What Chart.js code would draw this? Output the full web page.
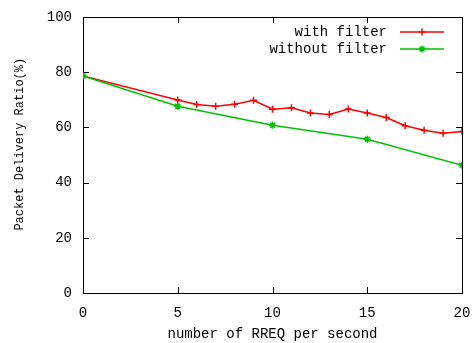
<!DOCTYPE html>
<html>
<head>
    <title>Packet Delivery Ratio</title>
    <script src="https://cdn.jsdelivr.net/npm/chart.js"></script>
    <style>
        body { margin: 0; background: #fff; }
    </style>
</head>
<body>
    <canvas id="chart" width="476" height="343"></canvas>

    <script>
        // values
        var xWithFilter = [0, 5, 6, 7, 8, 9, 10, 11, 12, 13, 14, 15, 16, 17, 18, 19, 20];
        var withFilter = [78.6, 69.9, 68.3, 67.7, 68.4, 69.8, 66.6, 67.1, 65.2, 64.7, 66.7, 65.2, 63.6, 60.6, 59.0, 57.9, 58.5];
        var xWithoutFilter = [0, 5, 10, 15, 20];
        var withoutFilter = [78.6, 67.7, 60.8, 55.7, 46.3];
        var xTicks = [0, 5, 10, 15, 20];
        var yTicks = [0, 20, 40, 60, 80, 100];
        var seriesNames = ['with filter', 'without filter'];

        var RED = '#ff0000';
        var GREEN = '#00c000';
        var FONT = 'Liberation Mono';

        function toPoints(xs, ys) {
            return xs.map(function(x, i) { return { x: x, y: ys[i] }; });
        }

        // gnuplot style box with inward ticks on all four sides
        var frame = {
            id: 'frame',
            beforeDatasetsDraw: function(chart) {
                var ctx = chart.ctx, a = chart.chartArea;
                var x = chart.scales.x, y = chart.scales.y;
                ctx.save();
                ctx.strokeStyle = '#000';
                ctx.lineWidth = 1;
                ctx.strokeRect(Math.round(a.left) + 0.5, Math.round(a.top) + 0.5,
                    Math.round(a.right - a.left), Math.round(a.bottom - a.top));
                ctx.beginPath();
                xTicks.forEach(function(v) {
                    var px = Math.round(x.getPixelForValue(v)) + 0.5;
                    ctx.moveTo(px, a.bottom); ctx.lineTo(px, a.bottom - 6);
                    ctx.moveTo(px, a.top); ctx.lineTo(px, a.top + 6);
                });
                yTicks.forEach(function(v) {
                    var py = Math.round(y.getPixelForValue(v)) + 0.5;
                    ctx.moveTo(a.left, py); ctx.lineTo(a.left + 6, py);
                    ctx.moveTo(a.right, py); ctx.lineTo(a.right - 6, py);
                });
                ctx.stroke();
                ctx.restore();
            },
            afterDraw: function(chart) {
                var ctx = chart.ctx;
                var rows = [
                    { text: seriesNames[0], color: RED, style: 'cross', y: 32 },
                    { text: seriesNames[1], color: GREEN, style: 'star', y: 49 }
                ];
                ctx.save();
                ctx.font = '14px "' + FONT + '"';
                ctx.textAlign = 'right';
                ctx.textBaseline = 'middle';
                rows.forEach(function(r) {
                    ctx.fillStyle = '#000';
                    ctx.fillText(r.text, 387, r.y);
                    ctx.strokeStyle = r.color;
                    ctx.fillStyle = r.color;
                    ctx.lineWidth = 1.5;
                    ctx.beginPath();
                    ctx.moveTo(400, r.y); ctx.lineTo(444, r.y);
                    ctx.stroke();
                    Chart.helpers.drawPoint(ctx, { pointStyle: r.style, radius: 3.5, rotation: 0, borderWidth: 1.5 }, 422, r.y);
                });
                ctx.restore();
            }
        };

        var ctx = document.getElementById('chart').getContext('2d');
        new Chart(ctx, {
            type: 'line',
            data: {
                datasets: [{
                    label: seriesNames[0],
                    data: toPoints(xWithFilter, withFilter),
                    borderColor: RED,
                    backgroundColor: RED,
                    borderWidth: 1.5,
                    pointStyle: 'cross',
                    pointRadius: 3.5,
                    pointBorderWidth: 1.5,
                    tension: 0,
                    order: 1
                }, {
                    label: seriesNames[1],
                    data: toPoints(xWithoutFilter, withoutFilter),
                    borderColor: GREEN,
                    backgroundColor: GREEN,
                    borderWidth: 1.5,
                    pointStyle: 'star',
                    pointRadius: 3.5,
                    pointBorderWidth: 1.5,
                    tension: 0,
                    order: 0
                }]
            },
            options: {
                responsive: false,
                animation: false,
                layout: { padding: { left: 0, top: 17, right: 14, bottom: 0 } },
                plugins: { legend: { display: false }, tooltip: { enabled: false } },
                scales: {
                    x: {
                        type: 'linear',
                        min: 0,
                        max: 20,
                        afterFit: function(s) { s.height = 50; },
                        afterBuildTicks: function(s) { s.ticks = xTicks.map(function(v) { return { value: v }; }); },
                        // tick marks are hidden; tickLength only spaces the labels
                        grid: { display: false, drawTicks: true, tickLength: 12 },
                        border: { display: false },
                        ticks: { color: '#000', padding: 0, font: { family: FONT, size: 14 } },
                        title: {
                            display: true,
                            text: 'number of RREQ per second',
                            color: '#000',
                            padding: { top: 0, bottom: 0 },
                            font: { family: FONT, size: 14 }
                        }
                    },
                    y: {
                        min: 0,
                        max: 100,
                        afterFit: function(s) { s.width = 83; },
                        afterBuildTicks: function(s) { s.ticks = yTicks.map(function(v) { return { value: v }; }); },
                        grid: { display: false, drawTicks: true, tickLength: 11 },
                        border: { display: false },
                        ticks: { color: '#000', padding: 0, font: { family: FONT, size: 14 } },
                        title: {
                            display: true,
                            text: '   Packet Delivery Ratio(%)',
                            color: '#000',
                            padding: { top: 13, bottom: 0 },
                            font: { family: FONT, size: 12 }
                        }
                    }
                }
            },
            plugins: [frame]
        });
    </script>
</body>
</html>
